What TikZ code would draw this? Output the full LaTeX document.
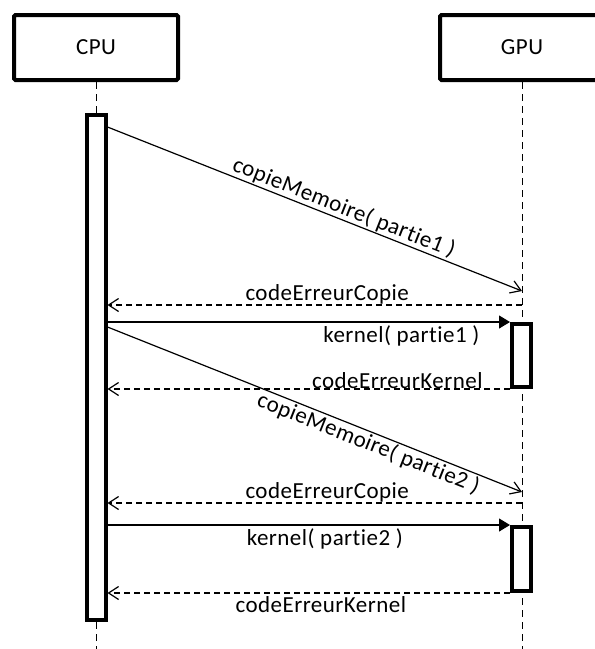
\documentclass[tikz,border=0pt]{standalone}
\usepackage{fontspec}
\setmainfont{Carlito}[Ligatures=NoCommon, LetterSpace=2]
\usetikzlibrary{arrows.meta}
\begin{document}
\begin{tikzpicture}[x=1pt,y=-1pt,
  actor/.style={draw, line width=4pt, rounded corners=1.5pt, minimum width=164pt, minimum height=65pt, fill=white, inner sep=0pt, font=\fontsize{23}{27}\selectfont},
  actbox/.style={draw, line width=4pt, fill=white, minimum width=19pt, inner sep=0pt},
  life/.style={line width=1pt, dash pattern=on 7pt off 5pt},
  call/.style={line width=1.2pt, -{Straight Barb[length=10pt,width=13pt,line width=1.2pt]}},
  ret/.style={line width=1.2pt, dash pattern=on 6pt off 4pt, -{Straight Barb[length=10pt,width=13pt,line width=1.2pt]}},
  sync/.style={line width=1.2pt, -{Triangle[length=11pt,width=13pt]}},
  lbl/.style={font=\fontsize{23}{27}\selectfont, inner sep=1pt}
]
\useasboundingbox (0,0) rectangle (595,649);
% lifelines
\coordinate (cpubot) at (96,649);
\coordinate (gpubot) at (522,649);
\node[actor] (cpu) at (96,47.5) {CPU};
\node[actor] (gpu) at (522,47.5) {GPU};
\node[actbox, minimum height=505pt] (cact) at (96,367.5) {};
\draw[life] (cpu.south) -- (cact.north);
\draw[life] (cact.south) -- (cpubot);
\draw[life] (gpu.south) -- (gpubot);
\node[actbox, minimum height=63pt] (gact1) at (521.5,355.5) {};
\node[actbox, minimum height=64pt] (gact2) at (521.5,559) {};
% message coordinates
\coordinate (m1s) at (107.5,127);
\coordinate (m1e) at (522,291);
\coordinate (r1s) at (522,305);
\coordinate (r1e) at (107.5,305);
\coordinate (k1s) at (107.5,322);
\coordinate (k1e) at (510,322);
\coordinate (q1s) at (510,389);
\coordinate (q1e) at (107.5,389);
\coordinate (m2s) at (107.5,327);
\coordinate (m2e) at (522,492);
\coordinate (r2s) at (522,503);
\coordinate (r2e) at (107.5,503);
\coordinate (k2s) at (107.5,525);
\coordinate (k2e) at (510,525);
\coordinate (q2s) at (510,593);
\coordinate (q2e) at (107.5,593);
% messages
\draw[call] (m1s) -- node[lbl, sloped, above, pos=0.56] (l1) {copieMemoire( partie1 )} (m1e);
\draw[ret] (r1s) -- node[lbl, above, pos=0.47, inner sep=0pt] (l2) {codeErreurCopie} (r1e);
\draw[sync] (k1s) -- node[lbl, below, pos=0.73, inner sep=3pt] (l3) {kernel( partie1 )} (k1e);
\draw[ret] (q1s) -- node[lbl, above, pos=0.28, inner sep=0pt] (l4) {codeErreurKernel} (q1e);
\draw[call] (m2s) -- node[lbl, sloped, below, pos=0.64] (l5) {copieMemoire( partie2 )} (m2e);
\draw[ret] (r2s) -- node[lbl, above, pos=0.47, inner sep=0pt] (l6) {codeErreurCopie} (r2e);
\draw[sync] (k2s) -- node[lbl, below, pos=0.54, inner sep=3pt] (l7) {kernel( partie2 )} (k2e);
\draw[ret] (q2s) -- node[lbl, below, pos=0.47, inner sep=3pt] (l8) {codeErreurKernel} (q2e);
\end{tikzpicture}
\end{document}
